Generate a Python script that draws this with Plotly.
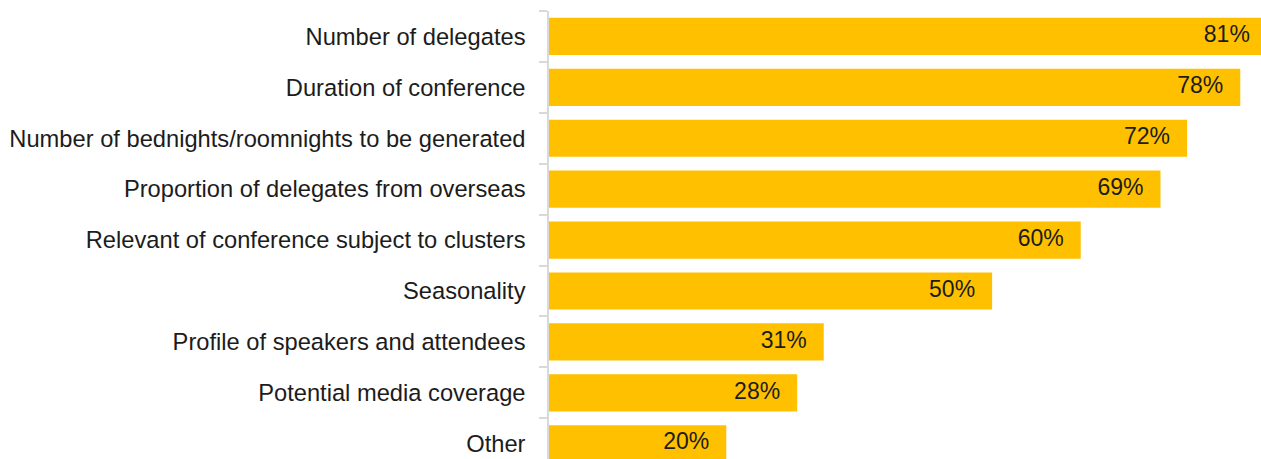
import plotly.graph_objects as go

# Survey results: share of respondents naming each factor
factors = [
    "Number of delegates",
    "Duration of conference",
    "Number of bednights/roomnights to be generated",
    "Proportion of delegates from overseas",
    "Relevant of conference subject to clusters",
    "Seasonality",
    "Profile of speakers and attendees",
    "Potential media coverage",
    "Other",
]
shares = [81, 78, 72, 69, 60, 50, 31, 28, 20]
share_labels = [f"{v}%" for v in shares]

W, H = 1261, 459
M_L, M_T = 549, 11
X_MAX = 80.34
px_per_unit = (W - M_L) / X_MAX
label_pad = 17 / px_per_unit

BAR = "#FFC000"
FONT = "Liberation Sans"
TEXT = "#1c1c1c"

fig = go.Figure()
fig.add_trace(go.Bar(
    x=shares, y=factors, orientation="h",
    marker=dict(color=BAR, line=dict(width=0)),
    hoverinfo="skip",
))
fig.add_trace(go.Scatter(
    x=[v - label_pad for v in shares], y=factors,
    mode="text", text=share_labels, textposition="middle left",
    textfont=dict(family=FONT, size=23, color=TEXT),
    cliponaxis=False, hoverinfo="skip", showlegend=False,
))

fig.update_layout(
    width=W, height=H,
    margin=dict(l=M_L, r=0, t=M_T, b=0, pad=0),
    plot_bgcolor="white", paper_bgcolor="white",
    bargap=0.27, showlegend=False,
    font=dict(family=FONT, size=23, color=TEXT),
)
fig.update_xaxes(range=[0, X_MAX], visible=False, showgrid=False, zeroline=False)
fig.update_yaxes(
    type="category",
    categoryorder="array", categoryarray=factors,
    range=[8.3, -0.5],
    showline=True, linecolor="#d9d9d9", linewidth=1.5,
    ticks="outside", tickson="boundaries", ticklen=8, tickcolor="#d9d9d9", tickwidth=1.5,
    ticklabelstandoff=17,
    showgrid=False, zeroline=False,
    tickfont=dict(family=FONT, size=23.7, color=TEXT),
)

fig.write_html("out.html")
